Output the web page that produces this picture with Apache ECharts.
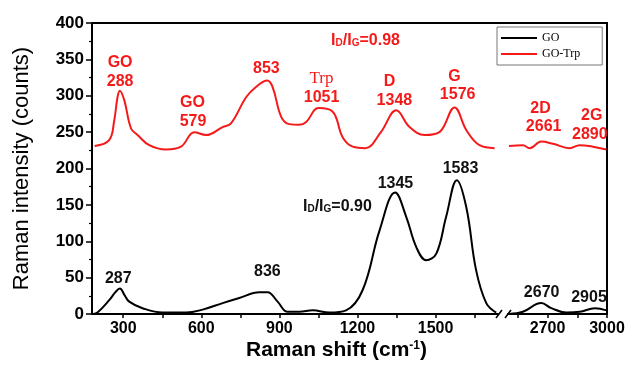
<!DOCTYPE html>
<html>
<head>
<meta charset="utf-8">
<script src="https://cdn.jsdelivr.net/npm/echarts@6/dist/echarts.min.js"></script>
<style>html,body{margin:0;padding:0;background:#fff}#chart{width:628px;height:368px}</style>
</head>
<body>
<div id="chart"></div>
<script>
var chart = echarts.init(document.getElementById('chart'));

// GO 曲线（断轴左段 / 右段），[拉曼位移, 强度]
var goLeft = [[185,0],[201,2],[246,19],[270,30],[287,35],[305,26],[323,17],[374,8],[451,2],[541,2],[605,6],[682,15],[746,22],[823,30],[855,30],[893,17],[932,3],[977,3],[1028,5],[1092,2],[1156,5],[1220,33],[1285,115],[1345,167],[1387,134],[1426,92],[1464,74],[1503,83],[1541,134],[1582,184],[1618,147],[1656,60],[1695,15],[1733,2]];
var goRight = [[2505,0],[2575,3],[2668,15],[2719,8],[2795,2],[2862,3],[2939,8],[2997,5]];
// GO-Trp 曲线
var trpLeft = [[190,231],[246,239],[265,265],[278,298],[287,307],[304,294],[330,255],[355,246],[400,232],[464,226],[522,230],[573,250],[618,246],[682,257],[714,262],[772,298],[810,312],[853,321],[874,312],[907,271],[938,261],[977,260],[1003,264],[1050,283],[1105,278],[1143,243],[1182,230],[1230,228],[1290,250],[1349,280],[1400,257],[1458,246],[1515,250],[1573,284],[1618,253],[1669,232],[1727,228]];
var trpRight = [[2505,231],[2575,232],[2609,228],[2668,237],[2727,234],[2812,228],[2862,232],[2929,230],[2997,226]];

// 刻度
var labelsLeft = [300, 600, 900, 1200, 1500];
var ticksLeft = [300, 450, 600, 750, 900, 1050, 1200, 1350, 1500, 1650];
var labelsRight = [2700, 3000];
var ticksRight = [2550, 2700, 2850, 3000];

// 峰值标注 [x, y, 文本]
var redNotesLeft = [[288,345,'GO'],[288,319,'288'],[566,290,'GO'],[568,265,'579'],[850,338,'853'],[1062,324,'{serif|Trp}'],[1062,298,'1051'],[1323,319,'D'],[1342,294,'1348'],[1573,326,'G'],[1585,301,'1576'],[1231,376,'I{sub|D}/I{sub|G}=0.98']];
var redNotesRight = [[2664,283,'2D'],[2680,257,'2661'],[2923,273,'2G'],[2913,246,'2890']];
var blackNotesLeft = [[281,49,'287'],[854,58,'836'],[1123,148,'I{sub|D}/I{sub|G}=0.90'],[1346,179,'1345'],[1596,200,'1583']];
var blackNotesRight = [[2670,29,'2670'],[2909,23,'2905']];

var RED = '#f51a1a';
var FONT = 'Liberation Sans';

function noteSeries(data, color, xi) {
    return {
        type: 'scatter',
        xAxisIndex: xi,
        yAxisIndex: xi,
        symbolSize: 0,
        silent: true,
        z: 5,
        data: data,
        itemStyle: { opacity: 1, color: color },
        label: {
            show: true,
            position: 'inside',
            formatter: function (p) { return p.data[2]; },
            color: color,
            opacity: 1,
            textBorderWidth: 0,
            fontFamily: FONT,
            fontWeight: 'bold',
            fontSize: 16,
            rich: {
                sub: { fontSize: 10, fontWeight: 'bold', color: color, fontFamily: FONT, textBorderWidth: 0, verticalAlign: 'bottom', padding: [6, 0, 0, 0] },
                serif: { fontSize: 17, fontFamily: 'Liberation Serif', fontWeight: 'normal', color: color, textBorderWidth: 0 }
            }
        }
    };
}

function lineSeries(name, data, color, xi) {
    return {
        name: name,
        type: 'line',
        xAxisIndex: xi,
        yAxisIndex: xi,
        data: data,
        smooth: 0.4,
        symbol: 'none',
        showSymbol: false,
        itemStyle: { color: color },
        lineStyle: { color: color, width: 2 }
    };
}

var axisText = {
    color: '#000', fontFamily: FONT, fontWeight: 'bold', fontSize: 16, margin: 7,
    formatter: function (v) { return String(v); }
};

var option = {
    animation: false,
    title: {
        text: 'Raman shift (cm{sup|-1})',
        left: 246,
        top: 340,
        padding: 0,
        textStyle: {
            color: '#000', fontFamily: FONT, fontWeight: 'bold', fontSize: 21,
            rich: { sup: { fontSize: 12, fontWeight: 'bold', fontFamily: FONT, color: '#000', verticalAlign: 'top' } }
        }
    },
    legend: {
        data: ['GO', 'GO-Trp'],
        orient: 'vertical',
        left: 497,
        top: 27,
        icon: 'rect',
        itemWidth: 36,
        itemHeight: 2,
        itemGap: 4,
        padding: [5, 22, 5, 4],
        borderColor: '#777',
        borderWidth: 1,
        textStyle: { color: '#000', fontFamily: 'Liberation Serif', fontSize: 12 }
    },
    grid: [
        { left: 92, top: 23, width: 406, height: 291, outerBoundsMode: 'none' },
        { left: 508, top: 23, width: 99, height: 291, outerBoundsMode: 'none' }
    ],
    xAxis: [
        {
            gridIndex: 0, type: 'value', min: 180, max: 1740,
            axisLine: { onZero: false, lineStyle: { color: '#000', width: 2 } },
            axisTick: { customValues: ticksLeft, length: 4, lineStyle: { color: '#000', width: 1.5 } },
            axisLabel: Object.assign({ customValues: labelsLeft }, axisText),
            splitLine: { show: false }
        },
        {
            gridIndex: 1, type: 'value', min: 2500, max: 3000,
            axisLine: { onZero: false, lineStyle: { color: '#000', width: 2 } },
            axisTick: { customValues: ticksRight, length: 4, lineStyle: { color: '#000', width: 1.5 } },
            axisLabel: Object.assign({ customValues: labelsRight }, axisText),
            splitLine: { show: false }
        }
    ],
    yAxis: [
        {
            gridIndex: 0, type: 'value', min: 0, max: 400, interval: 50,
            axisLine: { show: true, lineStyle: { color: '#000', width: 2 } },
            axisTick: { show: true, length: 6, lineStyle: { color: '#000', width: 1.5 } },
            minorTick: { show: true, splitNumber: 2, length: 3, lineStyle: { color: '#000', width: 1.2 } },
            axisLabel: { color: '#000', fontFamily: FONT, fontWeight: 'bold', fontSize: 17, margin: 8 },
            splitLine: { show: false },
            name: 'Raman intensity (counts)',
            nameLocation: 'middle',
            nameGap: 59,
            nameTextStyle: { color: '#000', fontFamily: FONT, fontSize: 22 }
        },
        { gridIndex: 1, type: 'value', min: 0, max: 400, show: false }
    ],
    graphic: [
        { type: 'polyline', shape: { points: [[92, 23], [607, 23], [607, 314]] }, style: { stroke: '#000', lineWidth: 2, fill: null } },
        { type: 'line', shape: { x1: 496, y1: 318, x2: 502, y2: 310 }, style: { stroke: '#000', lineWidth: 1.5 } },
        { type: 'line', shape: { x1: 505, y1: 318, x2: 511, y2: 310 }, style: { stroke: '#000', lineWidth: 1.5 } }
    ],
    series: [
        lineSeries('GO', goLeft, '#000', 0),
        lineSeries('GO', goRight, '#000', 1),
        lineSeries('GO-Trp', trpLeft, RED, 0),
        lineSeries('GO-Trp', trpRight, RED, 1),
        noteSeries(redNotesLeft, RED, 0),
        noteSeries(redNotesRight, RED, 1),
        noteSeries(blackNotesLeft, '#111', 0),
        noteSeries(blackNotesRight, '#111', 1)
    ]
};

chart.setOption(option);
</script>
</body>
</html>
